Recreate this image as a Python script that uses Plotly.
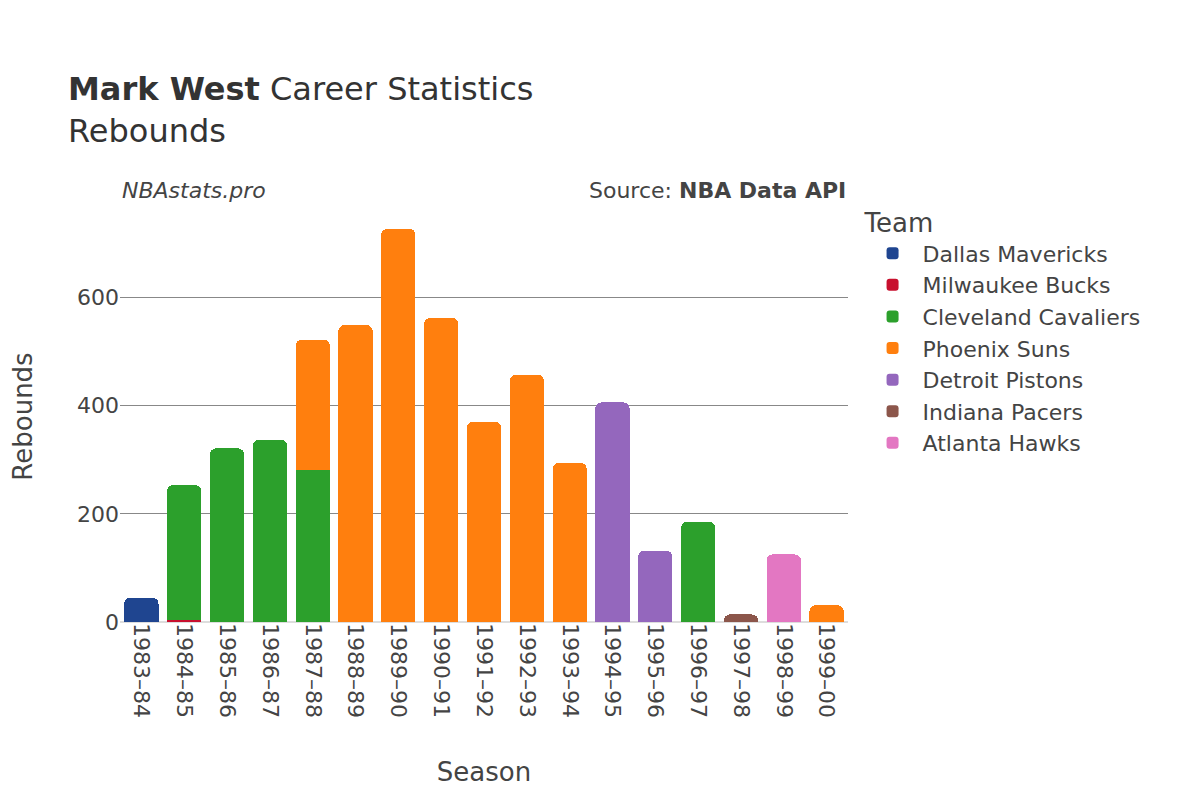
import plotly.graph_objects as go

seasons = ["1983–84","1984–85","1985–86","1986–87","1987–88","1988–89","1989–90","1990–91","1991–92","1992–93","1993–94","1994–95","1995–96","1996–97","1997–98","1998–99","1999–00"]
teams = ["Dallas Mavericks","Milwaukee Bucks","Cleveland Cavaliers","Phoenix Suns","Detroit Pistons","Indiana Pacers","Atlanta Hawks"]
colors = ["#1f4590","#c8102e","#2ca02c","#ff7f0e","#9467bd","#8c564b","#e377c2"]
team_seasons = [
    ["1983–84"],
    ["1984–85"],
    ["1984–85","1985–86","1986–87","1987–88","1996–97"],
    ["1987–88","1988–89","1989–90","1990–91","1991–92","1992–93","1993–94","1999–00"],
    ["1994–95","1995–96"],
    ["1997–98"],
    ["1998–99"],
]
team_values = [
    [45],
    [3],
    [250, 321, 337, 281, 185],
    [241, 549, 727, 562, 370, 457, 294, 31],
    [406, 132],
    [14],
    [125],
]

fig = go.Figure()
for t, c, s, v in zip(teams, colors, team_seasons, team_values):
    fig.add_trace(go.Bar(x=s, y=v, name=t, marker_color=c, marker_line_width=0, legendgroup=t))

fig.update_layout(
    width=1200, height=800, barmode="stack", barcornerradius=6,
    font=dict(family="DejaVu Sans", size=22, color="#444"),
    paper_bgcolor="white", plot_bgcolor="white",
    title=dict(text="<b>Mark West</b> Career Statistics<br>Rebounds", x=0.05, xanchor="left", y=0.885, font=dict(size=32, color="#333")),
    margin=dict(l=112, r=360, t=203, b=186),
    legend=dict(title=dict(text="Team", font=dict(size=26)), font=dict(size=22), traceorder="normal",
                x=1.02, y=1.03, yanchor="top", itemwidth=50, tracegroupgap=14),
    xaxis=dict(title=dict(text="Season", font=dict(size=26), standoff=45), categoryorder="array", categoryarray=seasons, tickangle=90, tickfont=dict(size=22)),
    yaxis=dict(title=dict(text="Rebounds", font=dict(size=26), standoff=40), gridcolor="#888", zeroline=True, zerolinecolor="#ddd", zerolinewidth=2,
               tickfont=dict(size=22), range=[0, 760], dtick=200),
    bargap=0.2,
)
fig.add_annotation(text="<i>NBAstats.pro</i>", xref="paper", yref="paper", x=0, y=1.015, xanchor="left", yanchor="bottom", showarrow=False, font=dict(size=22, color="#444"))
fig.add_annotation(text="Source: <b>NBA Data API</b>", xref="paper", yref="paper", x=1, y=1.015, xanchor="right", yanchor="bottom", showarrow=False, font=dict(size=22, color="#444"))
fig.write_html("out.html")
